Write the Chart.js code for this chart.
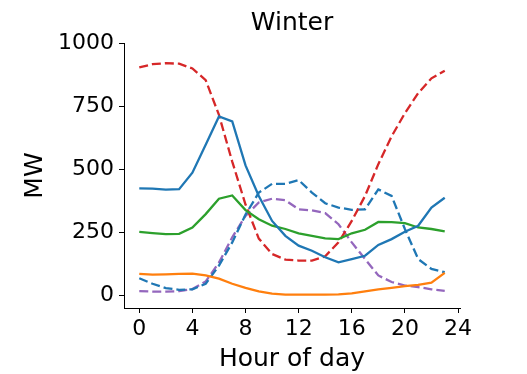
<!DOCTYPE html>
<html>
<head>
<meta charset="utf-8">
<script src="https://cdn.jsdelivr.net/npm/chart.js@4"></script>
<style>
  html, body { margin: 0; padding: 0; background: #fff; }
  #wrap { width: 527px; height: 374px; }
</style>
</head>
<body>
<div id="wrap"><canvas id="chart" width="527" height="374"></canvas></div>
<script>
// Data
const hours = [0, 1, 2, 3, 4, 5, 6, 7, 8, 9, 10, 11, 12, 13, 14, 15, 16, 17, 18, 19, 20, 21, 22, 23];
const xTicks = [0, 4, 8, 12, 16, 20, 24];
const yTicks = [0, 250, 500, 750, 1000];

const blueSolid = [424, 423, 419, 421, 486, 597, 709, 689, 515, 394, 295, 236, 197, 177, 151, 131, 144, 157, 200, 223, 252, 276, 348, 387];
const orangeSolid = [85, 82, 83, 85, 86, 79, 66, 46, 30, 16, 7, 3, 3, 3, 3, 4, 8, 16, 24, 30, 37, 42, 50, 89];
const greenSolid = [252, 247, 243, 244, 269, 322, 383, 396, 338, 302, 276, 263, 246, 236, 226, 223, 246, 260, 291, 290, 286, 269, 263, 254];
const redDashed = [903, 916, 920, 918, 899, 853, 715, 530, 360, 225, 164, 142, 138, 138, 155, 210, 295, 394, 520, 630, 722, 801, 860, 890];
const blueDashed = [68, 46, 29, 22, 24, 46, 118, 210, 320, 407, 442, 442, 457, 407, 365, 348, 339, 341, 420, 394, 263, 144, 105, 92];
const purpleDashed = [17, 15, 15, 17, 25, 55, 130, 230, 315, 368, 383, 377, 341, 337, 326, 282, 210, 144, 79, 53, 39, 33, 24, 18];

function series(values, color, dashed) {
    return {
        data: values.map((v, i) => ({ x: hours[i], y: v })),
        borderColor: color,
        borderWidth: 2.3,
        borderDash: dashed ? [9, 4] : [],
        pointRadius: 0,
        tension: 0,
        fill: false
    };
}

const font = 'DejaVu Sans';

new Chart(document.getElementById('chart'), {
    type: 'line',
    data: {
        datasets: [
            series(blueSolid, '#1f77b4', false),
            series(orangeSolid, '#ff7f0e', false),
            series(greenSolid, '#2ca02c', false),
            series(redDashed, '#d62728', true),
            series(blueDashed, '#1f77b4', true),
            series(purpleDashed, '#9467bd', true)
        ]
    },
    options: {
        responsive: false,
        animation: false,
        layout: { padding: { left: 20, right: 67, top: 0, bottom: 0 } },
        plugins: {
            legend: { display: false },
            tooltip: { enabled: false },
            title: {
                display: true,
                fullSize: false,
                text: 'Winter',
                color: '#000',
                font: { family: font, size: 25, weight: 'normal' },
                padding: { top: 8, bottom: 5 }
            }
        },
        scales: {
            x: {
                type: 'linear',
                min: -1.15,
                max: 24.15,
                afterBuildTicks: axis => { axis.ticks = xTicks.map(v => ({ value: v })); },
                afterFit: axis => { axis.height = 66; },
                grid: { drawOnChartArea: false, drawTicks: true, tickLength: 5, color: '#000', lineWidth: 1 },
                border: { display: true, color: '#000', width: 1 },
                ticks: { color: '#000', font: { family: font, size: 22 }, padding: 3, maxRotation: 0,
                         callback: v => String(v) },
                title: {
                    display: true,
                    text: 'Hour of day',
                    color: '#000',
                    font: { family: font, size: 25 },
                    padding: { top: 0, bottom: 0 }
                }
            },
            y: {
                min: -50,
                max: 1000,
                afterBuildTicks: axis => { axis.ticks = yTicks.map(v => ({ value: v })); },
                afterFit: axis => { axis.width = 104; },
                grid: { drawOnChartArea: false, drawTicks: true, tickLength: 5, color: '#000', lineWidth: 1 },
                border: { display: true, color: '#000', width: 1 },
                ticks: { color: '#000', font: { family: font, size: 22 }, padding: 5,
                         callback: v => String(v) },
                title: {
                    display: true,
                    text: 'MW',
                    color: '#000',
                    font: { family: font, size: 25 },
                    padding: { top: 0, bottom: 0 }
                }
            }
        }
    }
});
</script>
</body>
</html>
